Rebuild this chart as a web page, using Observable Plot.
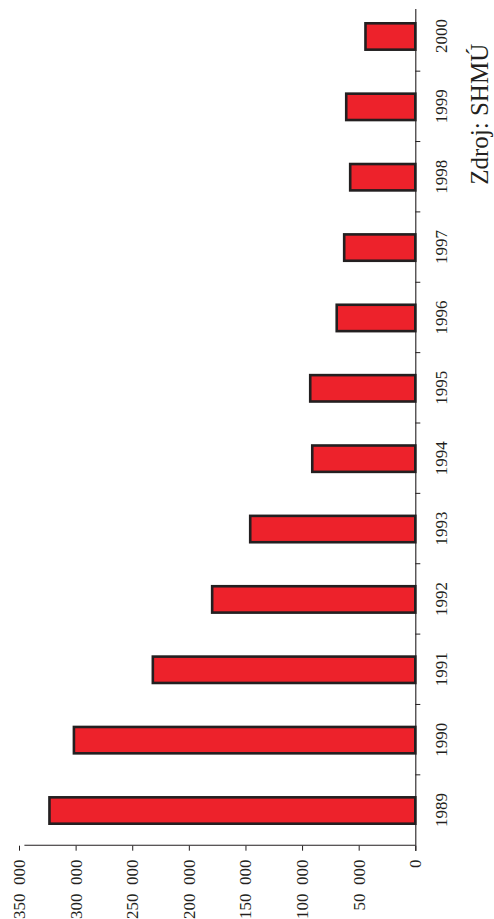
<!DOCTYPE html>
<html>
<head>
<meta charset="utf-8">
<script src="https://cdn.jsdelivr.net/npm/d3@7"></script>
<script src="https://cdn.jsdelivr.net/npm/@observablehq/plot@0.6"></script>
<style>
  html, body { margin: 0; padding: 0; background: #fff; width: 494px; height: 919px; overflow: hidden; }
  #chart { position: absolute; left: 0; top: 0; width: 919px; height: 494px;
           transform-origin: 0 0; transform: translate(0, 919px) rotate(-90deg); }
  #chart svg, #chart svg text { font-family: "Liberation Serif", "DejaVu Serif", serif !important; }
</style>
</head>
<body>
<div id="chart"></div>
<script>
const years = [1989, 1990, 1991, 1992, 1993, 1994, 1995, 1996, 1997, 1998, 1999, 2000];
const values = [323100, 301500, 231800, 179400, 145800, 91000, 92800, 69400, 62800, 57500, 61000, 44000];
const valueTicks = [0, 50000, 100000, 150000, 200000, 250000, 300000, 350000];
const caption = "Zdroj: SHMÚ";

const data = years.map((year, i) => ({year, value: values[i]}));
const boundaries = years.slice(1).map(y => y - 0.5);
const fmt = d => d3.format(",")(d).replace(/,/g, "\u2002");
const ink = "#231f20";

const svg = Plot.plot({
  width: 919,
  height: 494,
  marginTop: 19,
  marginBottom: 78.7,
  marginLeft: 73.3,
  marginRight: 1.3,
  style: {fontFamily: "'Liberation Serif', serif", fontSize: "17px", color: ink, background: "#fff"},
  x: {type: "linear", domain: [years[0] - 0.5, years[years.length - 1] + 0.5]},
  y: {domain: [0, valueTicks[valueTicks.length - 1]]},
  marks: [
    Plot.rectY(data, {
      x1: d => d.year - 0.5, x2: d => d.year + 0.5, y: "value",
      insetLeft: 22, insetRight: 22,
      fill: "#ed222b", stroke: ink, strokeWidth: 2.6
    }),
    Plot.ruleY([0], {stroke: ink, strokeWidth: 1.1, insetLeft: -5.3, insetRight: 7.7}),
    Plot.ruleX([years[0] - 0.5], {y1: 0, y2: valueTicks[valueTicks.length - 1], stroke: ink, strokeWidth: 1.1, insetBottom: -5.4}),
    Plot.axisY({ticks: valueTicks, tickSize: 5, tickPadding: 9.3, tickFormat: fmt, label: null, fontSize: 17}),
    Plot.axisX({ticks: boundaries, tickSize: 5, text: null, label: null}),
    Plot.axisX({ticks: years, tickSize: 0, tickPadding: 19, tickFormat: d => String(d), label: null, fontSize: 17}),
    Plot.text([caption], {frameAnchor: "bottom-right", dx: -43, dy: 64, textAnchor: "end", lineAnchor: "middle", fontSize: 25, fill: ink})
  ]
});
document.getElementById("chart").append(svg);
</script>
</body>
</html>
